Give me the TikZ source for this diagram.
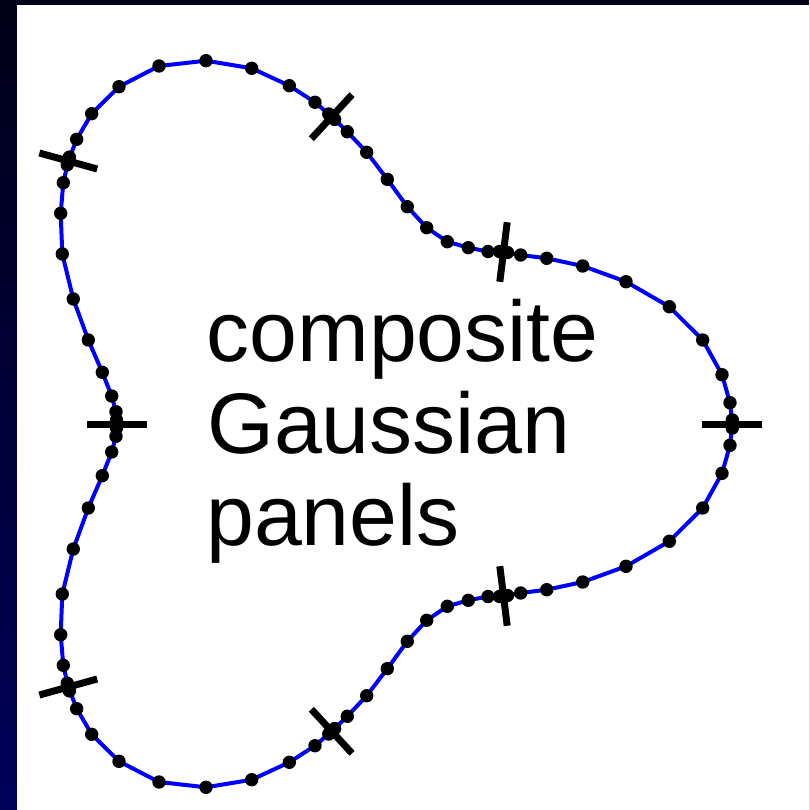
\documentclass[tikz,border=0pt]{standalone}
\usepackage{fontspec}
\setmainfont{Liberation Sans}
\definecolor{navytop}{RGB}{0,0,24}
\definecolor{navybot}{RGB}{0,0,88}
\definecolor{curveblue}{RGB}{0,0,255}
\begin{document}
\begin{tikzpicture}[x=1pt,y=-1pt,
  curvestyle/.style={draw=curveblue, line width=4pt, line join=round},
  barmark/.style={draw=black, line width=7pt},
  txt/.style={anchor=base west, inner sep=0pt, font=\fontsize{86}{92}\selectfont}]
\useasboundingbox (0,0) rectangle (809,810);
\shade[top color=navytop, bottom color=navybot] (0,0) rectangle (809,810);
\fill[white] (17,5) rectangle (809,810);
% curve
\draw[curvestyle]
 (732.3,424) -- (730,402.7) -- (722,374.7) -- (702.7,340) -- (669.3,306.7) -- (626,281.7) -- (582.7,266) -- (546.7,258.3) -- (520.7,255)
 -- (503.5,252) -- (488,251.5) -- (468.3,247.7) -- (447.3,241.7) -- (426.7,227.7) -- (407.3,206.7) -- (387.3,179.3) -- (366.7,152.3) -- (347.3,131.7)
 -- (331.7,116.7) -- (315,102.3) -- (289.3,85.7) -- (251.7,68.3) -- (206,60.7) -- (159,66) -- (119,86.7) -- (91.7,113.7) -- (76.7,139.3)
 -- (68.3,161) -- (63.3,182.7) -- (60.7,213.3) -- (62.3,254) -- (73.3,299) -- (88.3,340) -- (102.3,372.3) -- (111.7,396) -- (116,411.7)
 -- (116,424) -- (116,436.3) -- (111.7,452) -- (102.3,475.7) -- (88.3,508) -- (73.3,549) -- (62.3,594) -- (60.7,634.7) -- (63.3,665.3)
 -- (68.3,687) -- (76.7,708.7) -- (91.7,734.3) -- (119,761.3) -- (159,782) -- (206,787.3) -- (251.7,779.7) -- (289.3,762.3) -- (315,745.7)
 -- (331.7,731.3) -- (347.3,716.3) -- (366.7,695.7) -- (387.3,668.7) -- (407.3,641.3) -- (426.7,620.3) -- (447.3,606.3) -- (468.3,600.3) -- (488,596.5)
 -- (503.5,596) -- (520.7,593) -- (546.7,589.7) -- (582.7,582) -- (626,566.3) -- (669.3,541.3) -- (702.7,508) -- (722,473.3) -- (730,445.3) -- cycle;
% quadrature dots
\foreach \x/\y in {730/402.7, 722/374.7, 702.7/340, 669.3/306.7, 626/281.7, 582.7/266, 546.7/258.3, 520.7/255,
 488/251.5, 468.3/247.7, 447.3/241.7, 426.7/227.7, 407.3/206.7, 387.3/179.3, 366.7/152.3, 347.3/131.7,
 315/102.3, 289.3/85.7, 251.7/68.3, 206/60.7, 159/66, 119/86.7, 91.7/113.7, 76.7/139.3,
 63.3/182.7, 60.7/213.3, 62.3/254, 73.3/299, 88.3/340, 102.3/372.3, 111.7/396, 116/411.7,
 116/436.3, 111.7/452, 102.3/475.7, 88.3/508, 73.3/549, 62.3/594, 60.7/634.7, 63.3/665.3,
 76.7/708.7, 91.7/734.3, 119/761.3, 159/782, 206/787.3, 251.7/779.7, 289.3/762.3, 315/745.7,
 347.3/716.3, 366.7/695.7, 387.3/668.7, 407.3/641.3, 426.7/620.3, 447.3/606.3, 468.3/600.3, 488/596.5,
 520.7/593, 546.7/589.7, 582.7/582, 626/566.3, 669.3/541.3, 702.7/508, 722/473.3, 730/445.3}
  \fill (\x,\y) circle (6.7);
% panel end points with cross marks
\foreach \n/\x/\y/\a in {R/732.3/424/0, A/503.5/252/-82.9, B/331.7/116.7/-47.3, C/68.3/161/15.5,
  L/116.5/424/0, D/68.3/687/-15.5, E/331.7/731.3/47.3, F/503.5/596/82.9} {
  \coordinate (c\n) at (\x,\y);
  \pgfmathsetmacro\t{\a+90}
  \fill ([shift={(\t:4)}]c\n) circle (6.7);
  \fill ([shift={(\t:-4)}]c\n) circle (6.7);
  \draw[barmark] ([shift={(\a:30)}]c\n) -- ([shift={(\a:-30)}]c\n);
}
% label
\node[txt] (t1) at (206.5,361.7) {composite};
\node[txt] (t2) at (207,453) {Gaussian};
\node[txt] (t3) at (206,545.7) {panels};
\end{tikzpicture}
\end{document}
